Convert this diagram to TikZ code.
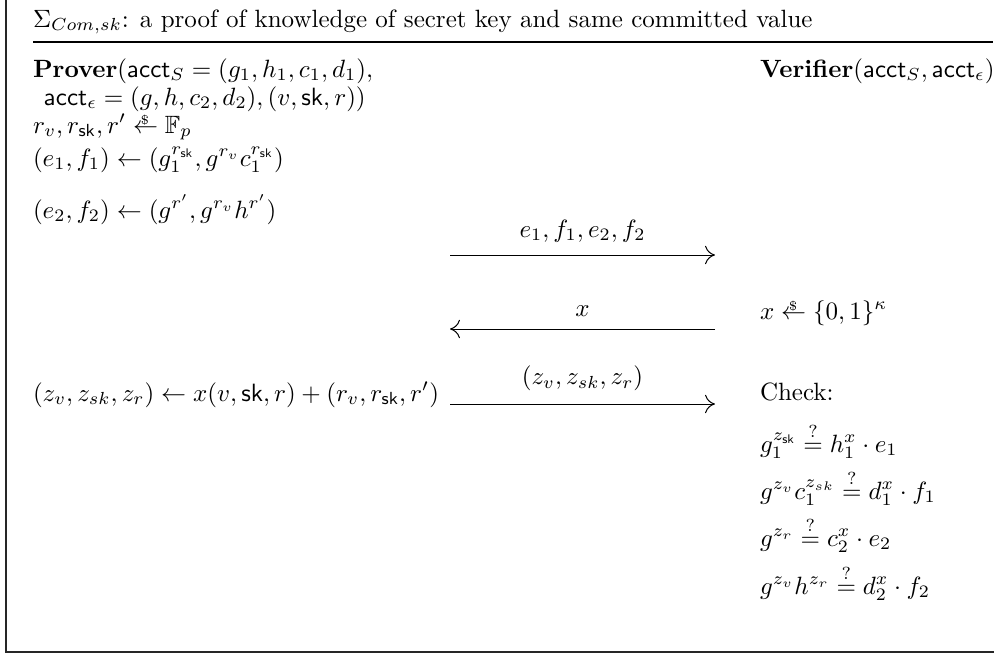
\documentclass[tikz,border=0pt]{standalone}
\usepackage{amsmath,amssymb}
\usetikzlibrary{arrows.meta,positioning}
\newcommand{\acct}{\mathsf{acct}}
\newcommand{\skey}{\mathsf{sk}}
\newcommand{\sample}{\mathrel{\hbox{\ooalign{$\leftarrow$\cr\hfil\raisebox{3.6pt}{$\scriptscriptstyle\$$}\kern0.5pt\hfil\cr}}}}
\tikzset{
  txt/.style={anchor=base west,inner sep=0pt,outer sep=0pt},
  msg/.style={-{To[length=1.4mm,width=2.6mm]},thin},
  msgtext/.style={above=5pt,inner sep=0pt},
  frame/.style={draw=black!85,line width=0.8pt},
  rule/.style={draw=black,line width=0.6pt}
}
\begin{document}
\begin{tikzpicture}[x=0.4pt,y=-0.4pt]
  \useasboundingbox (0,0) rectangle (994,655);
  % frame and title
  \draw[frame] (6,0) -- (6,652) -- (994,652);
  \node[txt] (title) at (33,27) {$\Sigma_{Com,sk}$: a proof of knowledge of secret key and same committed value};
  \draw[rule] (33,42) -- (993,42);
  % prover side
  \node[txt] (p1) at (33,77) {\textbf{Prover}$(\acct_S = (g_1,h_1,c_1,d_1),$};
  \node[txt] (p2) at (44,105) {$\acct_\epsilon = (g,h,c_2,d_2),(v,\skey,r))$};
  \node[txt] (p3) at (33,133) {$r_v,r_{\skey},r' \sample \mathbb{F}_p$};
  \node[txt] (p4) at (33,166) {$(e_1,f_1) \leftarrow (g_1^{r_{\skey}},g^{r_v}c_1^{r_{\skey}})$};
  \node[txt] (p5) at (33,218) {$(e_2,f_2) \leftarrow (g^{r'},g^{r_v}h^{r'})$};
  \node[txt] (p6) at (33,401) {$(z_v,z_{sk},z_r) \leftarrow x(v,\skey,r) + (r_v,r_{\skey},r')$};
  % verifier side
  \node[txt] (v1) at (760,77) {\textbf{Verifier}$(\acct_S,\acct_\epsilon)$};
  \node[txt] (v2) at (760,319) {$x \sample \{0,1\}^\kappa$};
  \node[txt] (v3) at (760,400) {Check:};
  \node[txt] (c1) at (760,452) {$g_1^{z_{\skey}} \stackrel{?}{=} h_1^x \cdot e_1$};
  \node[txt] (c2) at (760,499) {$g^{z_v}c_1^{z_{sk}} \stackrel{?}{=} d_1^x \cdot f_1$};
  \node[txt] (c3) at (760,546) {$g^{z_r} \stackrel{?}{=} c_2^x \cdot e_2$};
  \node[txt] (c4) at (760,594) {$g^{z_v}h^{z_r} \stackrel{?}{=} d_2^x \cdot f_2$};
  % messages
  \coordinate (m1a) at (450,255);
  \coordinate (m1b) at (715,255);
  \coordinate (m2a) at (715,329);
  \coordinate (m2b) at (450,329);
  \coordinate (m3a) at (450,404);
  \coordinate (m3b) at (715,404);
  \draw[msg] (m1a) -- node[msgtext] {$e_1,f_1,e_2,f_2$} (m1b);
  \draw[msg] (m2a) -- node[msgtext] {$x$} (m2b);
  \draw[msg] (m3a) -- node[msgtext] {$(z_v,z_{sk},z_r)$} (m3b);
\end{tikzpicture}
\end{document}
